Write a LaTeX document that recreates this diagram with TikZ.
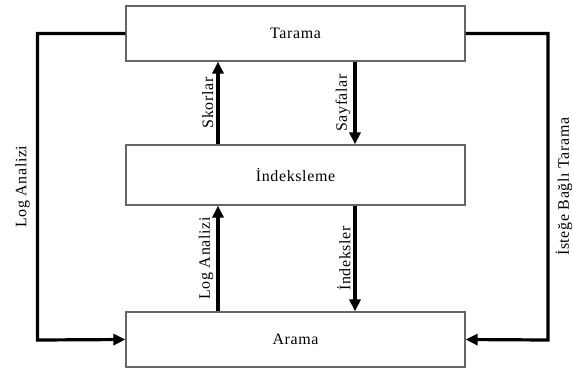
\documentclass[tikz,border=0pt]{standalone}
\usepackage{fontspec}
\setmainfont{Liberation Serif}[LetterSpace=4]
\usepackage{tikz}
\usetikzlibrary{arrows.meta, positioning}

\begin{document}
\begin{tikzpicture}[x=1bp, y=-1bp,
                    every node/.style={font=\fontsize{16}{19}\selectfont},
                    box/.style={draw=black!60, line width=1.2bp, fill=white,
                                minimum width=339bp, inner sep=0pt},
                    flow/.style={line width=3.2bp, -{Triangle[length=12bp,width=11bp]}},
                    lbl/.style={rotate=90, inner sep=3bp}]

\useasboundingbox (0,0) rectangle (573,371);

% Nodes
\node[box, minimum height=55bp] (tarama)  at (295.5,33.5) {Tarama};
\node[box, minimum height=60bp] (indeks)  at (295.5,175)  {İndeksleme};
\node[box, minimum height=55bp] (arama)   at (295.5,339.5) {Arama};

\coordinate (solust) at (37.5,33.5);
\coordinate (solalt) at (37.5,340);
\coordinate (sagust) at (548,33.5);
\coordinate (sagalt) at (548,340);

% Edges
\draw[flow] (indeks.north -| 218,0) -- node[lbl, midway, anchor=south] {Skorlar} (tarama.south -| 218,0);
\draw[flow] (tarama.south -| 355,0) -- node[lbl, midway, anchor=south] {Sayfalar} (indeks.north -| 355,0);
\draw[flow] (arama.north -| 218,0) -- node[lbl, midway, anchor=south] {Log Analizi} (indeks.south -| 218,0);
\draw[flow] (indeks.south -| 355,0) -- node[lbl, midway, anchor=south] {İndeksler} (arama.north -| 355,0);

\draw[flow] (tarama.west) -- (solust) -- node[lbl, midway, anchor=south, inner sep=6bp] {Log Analizi} (solalt) -- (arama.west);
\draw[flow] (tarama.east) -- (sagust) -- node[lbl, midway, anchor=north, inner sep=6bp] {İsteğe Bağlı Tarama} (sagalt) -- (arama.east);

\end{tikzpicture}
\end{document}
